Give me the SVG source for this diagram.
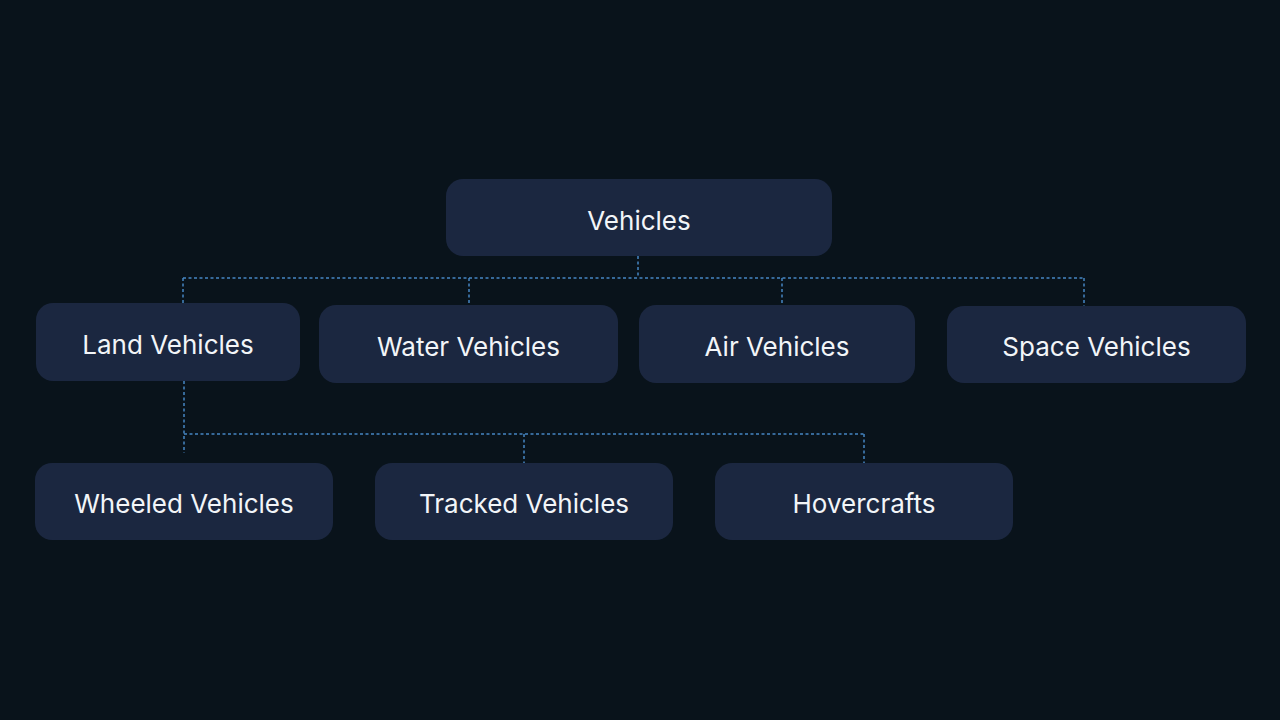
<svg xmlns="http://www.w3.org/2000/svg" width="1280" height="720" viewBox="0 0 1280 720">
  <style>
    .node rect { fill: #1b2740; }
    .node text { fill: #f2f5f8; font-family: Inter, "Noto Sans", "Liberation Sans", sans-serif; font-size: 26px; text-anchor: middle; }
    .conn path { fill: none; stroke: #4586c4; stroke-width: 1.5; stroke-dasharray: 3 2.5; }
  </style>
  <rect width="1280" height="720" fill="#09131b"/>
  <g class="conn">
    <path d="M638 256 V278"/>
    <path d="M183 278 H1084"/>
    <path d="M183 278 V303"/>
    <path d="M469 278 V305"/>
    <path d="M782 278 V305"/>
    <path d="M1084 278 V306"/>
    <path d="M184 381 V453"/>
    <path d="M184 434 H864"/>
    <path d="M524 434 V463"/>
    <path d="M864 434 V463"/>
  </g>
  <g id="vehicles" class="node">
    <rect x="446" y="179" width="386" height="77" rx="17"/>
    <text x="639" y="230">Vehicles</text>
  </g>
  <g id="land" class="node">
    <rect x="36" y="303" width="264" height="78" rx="17"/>
    <text x="168" y="354">Land Vehicles</text>
  </g>
  <g id="water" class="node">
    <rect x="319" y="305" width="299" height="78" rx="17"/>
    <text x="468.5" y="356">Water Vehicles</text>
  </g>
  <g id="air" class="node">
    <rect x="639" y="305" width="276" height="78" rx="17"/>
    <text x="777" y="356">Air Vehicles</text>
  </g>
  <g id="space" class="node">
    <rect x="947" y="306" width="299" height="77" rx="17"/>
    <text x="1096.5" y="356">Space Vehicles</text>
  </g>
  <g id="wheeled" class="node">
    <rect x="35" y="463" width="298" height="77" rx="17"/>
    <text x="184" y="513">Wheeled Vehicles</text>
  </g>
  <g id="tracked" class="node">
    <rect x="375" y="463" width="298" height="77" rx="17"/>
    <text x="524" y="513">Tracked Vehicles</text>
  </g>
  <g id="hovercrafts" class="node">
    <rect x="715" y="463" width="298" height="77" rx="17"/>
    <text x="864" y="513">Hovercrafts</text>
  </g>
</svg>
